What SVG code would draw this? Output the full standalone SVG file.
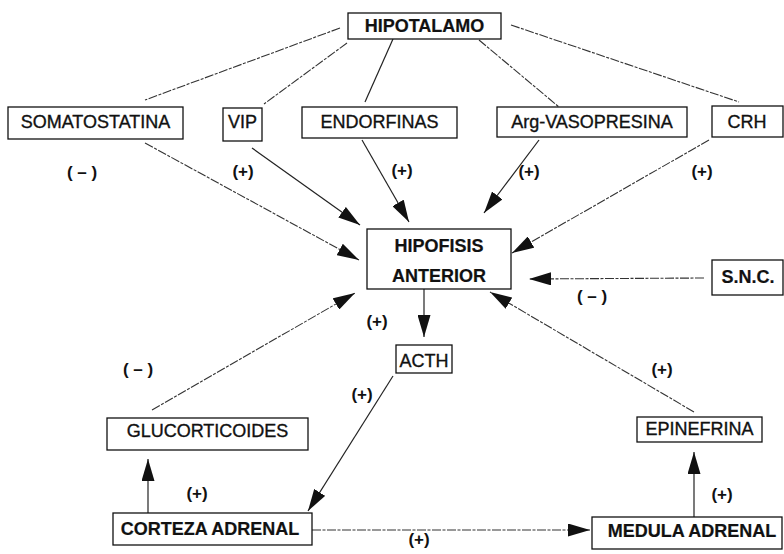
<svg xmlns="http://www.w3.org/2000/svg" width="784" height="554" viewBox="0 0 784 554">
  <style>
    .box { fill: #fff; stroke: #111; stroke-width: 1.3; }
    .t { font-family: "Liberation Sans", Arial, sans-serif; font-size: 18px; fill: #111; stroke: #111; stroke-width: 0.35; text-anchor: middle; }
    .b { font-weight: bold; stroke-width: 0.2; }
    .sign { font-family: "Liberation Sans", Arial, sans-serif; font-size: 17px; font-weight: bold; fill: #111; text-anchor: middle; }
    .ln { stroke: #222; stroke-width: 1.2; fill: none; }
    .dl { stroke: #333; stroke-width: 1.1; fill: none; stroke-dasharray: 9 1.5 3 1.5; }
    .arr { marker-end: url(#head); }
  </style>
  <defs>
    <marker id="head" markerUnits="userSpaceOnUse" markerWidth="22" markerHeight="13" refX="22" refY="6.5" orient="auto">
      <path d="M0,0 L22,6.5 L0,13 z" fill="#111"/>
    </marker>
  </defs>
  <rect width="784" height="554" fill="#fff"/>

  <!-- connectors -->
  <g id="connectors">
    <line class="dl" x1="340" y1="28" x2="145" y2="100"/>
    <line class="dl" x1="347" y1="43" x2="264" y2="104"/>
    <line class="ln" x1="393" y1="39" x2="365" y2="102"/>
    <line class="dl" x1="479" y1="40" x2="559" y2="107"/>
    <line class="dl" x1="511" y1="25" x2="739" y2="102"/>

    <line class="dl arr" x1="145" y1="143" x2="359" y2="260"/>
    <line class="ln arr" x1="252" y1="148" x2="360" y2="225"/>
    <line class="ln arr" x1="362" y1="140" x2="409" y2="222"/>
    <line class="ln arr" x1="539" y1="140" x2="484" y2="213"/>
    <line class="dl arr" x1="709" y1="140" x2="512" y2="253"/>
    <line class="dl arr" x1="704" y1="278" x2="529" y2="279"/>
    <line class="dl arr" x1="694" y1="412" x2="490" y2="292"/>
    <line class="ln arr" x1="424" y1="289" x2="424" y2="337"/>
    <line class="dl arr" x1="152" y1="410" x2="355" y2="293"/>
    <line class="ln arr" x1="393" y1="376" x2="308" y2="511"/>
    <line class="ln arr" x1="148" y1="513" x2="148" y2="459"/>
    <line class="dl arr" x1="312" y1="530" x2="590" y2="530"/>
    <line class="ln arr" x1="694" y1="517" x2="694" y2="452"/>
  </g>

  <!-- nodes -->
  <g id="hipotalamo">
    <rect class="box" x="348" y="13" width="153" height="26"/>
    <text class="t b" x="424.5" y="32" font-size="19">HIPOTALAMO</text>
  </g>
  <g id="somatostatina">
    <rect class="box" x="8" y="107" width="175" height="32"/>
    <text class="t" x="95.5" y="128" font-size="19">SOMATOSTATINA</text>
  </g>
  <g id="vip">
    <rect class="box" x="223" y="108" width="39" height="33"/>
    <text class="t" x="242.5" y="128" font-size="19">VIP</text>
  </g>
  <g id="endorfinas">
    <rect class="box" x="302" y="107" width="155" height="31"/>
    <text class="t" x="379.5" y="128" font-size="19">ENDORFINAS</text>
  </g>
  <g id="arg-vasopresina">
    <rect class="box" x="497" y="107" width="190" height="30"/>
    <text class="t" x="592" y="128" font-size="19">Arg-VASOPRESINA</text>
  </g>
  <g id="crh">
    <rect class="box" x="712" y="106" width="71" height="31"/>
    <text class="t" x="747" y="128" font-size="19">CRH</text>
  </g>
  <g id="hipofisis">
    <rect class="box" x="367" y="229" width="144" height="60"/>
    <text class="t b" x="439" y="252" font-size="20">HIPOFISIS</text>
    <text class="t b" x="439" y="282" font-size="20">ANTERIOR</text>
  </g>
  <g id="snc">
    <rect class="box" x="712" y="260" width="71" height="35"/>
    <text class="t b" x="748" y="283" font-size="19">S.N.C.</text>
  </g>
  <g id="acth">
    <rect class="box" x="396" y="345" width="56" height="28"/>
    <text class="t" x="424" y="367">ACTH</text>
  </g>
  <g id="glucorticoides">
    <rect class="box" x="107" y="418" width="201" height="32"/>
    <text class="t" x="207.5" y="437">GLUCORTICOIDES</text>
  </g>
  <g id="epinefrina">
    <rect class="box" x="637" y="417" width="125" height="25"/>
    <text class="t" x="699.5" y="435">EPINEFRINA</text>
  </g>
  <g id="corteza-adrenal">
    <rect class="box" x="113" y="513" width="199" height="32"/>
    <text class="t b" x="210" y="535">CORTEZA ADRENAL</text>
  </g>
  <g id="medula-adrenal">
    <rect class="box" x="592" y="517" width="190" height="32"/>
    <text class="t b" x="692" y="537">MEDULA ADRENAL</text>
  </g>

  <!-- effect signs -->
  <g id="signs">
    <text class="sign" x="82" y="178">( – )</text>
    <text class="sign" x="243" y="177">(+)</text>
    <text class="sign" x="402" y="176">(+)</text>
    <text class="sign" x="529" y="177">(+)</text>
    <text class="sign" x="702" y="177">(+)</text>
    <text class="sign" x="592" y="302">( – )</text>
    <text class="sign" x="377" y="327">(+)</text>
    <text class="sign" x="138" y="375">( – )</text>
    <text class="sign" x="662" y="375">(+)</text>
    <text class="sign" x="362" y="400">(+)</text>
    <text class="sign" x="197" y="499">(+)</text>
    <text class="sign" x="419" y="545">(+)</text>
    <text class="sign" x="722" y="500">(+)</text>
  </g>
</svg>
